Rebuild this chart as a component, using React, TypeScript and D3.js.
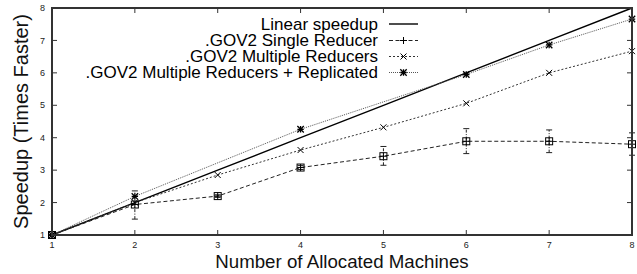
import React from "react";
import * as d3 from "d3";

// machines on the x axis
const machines = [1, 2, 3, 4, 5, 6, 7, 8];
const yTicks = [1, 2, 3, 4, 5, 6, 7, 8];

const linearSpeedup = [1, 2, 3, 4, 5, 6, 7, 8];
// single reducer, mean and error range
const singleReducer = [1, 1.94, 2.2, 3.08, 3.43, 3.89, 3.89, 3.8];
const singleLow = [1, 1.49, 2.16, 3.02, 3.15, 3.51, 3.54, 3.46];
const singleHigh = [1, 2.36, 2.24, 3.14, 3.73, 4.28, 4.24, 4.15];
const multipleReducers = [1, 2.0, 2.85, 3.62, 4.32, 5.06, 6.0, 6.67];
// replicated run has no points at 3 and 5 machines
const replicatedMachines = [1, 2, 4, 6, 7, 8];
const replicated = [1, 2.19, 4.26, 5.95, 6.86, 7.66];

const legendLabels = [
  "Linear speedup",
  ".GOV2 Single Reducer",
  ".GOV2 Multiple Reducers",
  ".GOV2 Multiple Reducers + Replicated",
];

const W = 637;
const H = 274;
const m = { left: 52, right: 5, top: 8, bottom: 39 };
const font = "'Liberation Sans', Arial, Helvetica, sans-serif";

const Plus = ({ x, y, s = 3.5 }) => (
  <path d={`M${x - s},${y}H${x + s}M${x},${y - s}V${y + s}`} stroke="#000" strokeWidth={1} />
);
const Cross = ({ x, y, s = 3 }) => (
  <path d={`M${x - s},${y - s}L${x + s},${y + s}M${x - s},${y + s}L${x + s},${y - s}`} stroke="#000" strokeWidth={1} />
);
const Star = ({ x, y, s = 3.2 }) => (
  <g stroke="#000" strokeWidth={1.3}>
    <path d={`M${x - s},${y}H${x + s}M${x},${y - s}V${y + s}`} />
    <path d={`M${x - s},${y - s}L${x + s},${y + s}M${x - s},${y + s}L${x + s},${y - s}`} />
  </g>
);
const BoxPlus = ({ x, y, s = 3.5 }) => (
  <g stroke="#000" strokeWidth={1} fill="none">
    <rect x={x - s} y={y - s} width={2 * s} height={2 * s} />
    <path d={`M${x - s},${y}H${x + s}M${x},${y - s}V${y + s}`} />
  </g>
);

export default function App() {
  const x = d3.scaleLinear().domain([1, 8]).range([m.left, W - m.right]);
  const y = d3.scaleLinear().domain([1, 8]).range([H - m.bottom, m.top]);
  const [x0, x1] = x.range();
  const [y0, y1] = y.range();

  const line = d3.line<[number, number]>().x((d) => x(d[0])).y((d) => y(d[1]));
  const zip = (xs: number[], ys: number[]) => xs.map((v, i) => [v, ys[i]] as [number, number]);

  const series = [
    { label: legendLabels[0], d: zip(machines, linearSpeedup), dash: "none", color: "#000", w: 1.4, mark: null },
    { label: legendLabels[1], d: zip(machines, singleReducer), dash: "4,2.5", color: "#222", w: 1, mark: Plus },
    { label: legendLabels[2], d: zip(machines, multipleReducers), dash: "2,2", color: "#333", w: 1, mark: Cross },
    { label: legendLabels[3], d: zip(replicatedMachines, replicated), dash: "1,1", color: "#555", w: 1, mark: Star },
  ];

  const tickLen = 5;
  const legendRight = 378;
  const legendY = [24, 40.5, 56.5, 72.5];

  return (
    <svg width={W} height={H} style={{ position: "absolute", left: 0, top: 0, background: "#fff" }}>
      {/* ticks, mirrored on all sides */}
      <g stroke="#333" strokeWidth={1}>
        {yTicks.map((t) => (
          <g key={"y" + t}>
            <line x1={x0} x2={x0 + tickLen} y1={y(t)} y2={y(t)} />
            <line x1={x1} x2={x1 - tickLen} y1={y(t)} y2={y(t)} />
          </g>
        ))}
        {machines.map((t) => (
          <g key={"x" + t}>
            <line x1={x(t)} x2={x(t)} y1={y0} y2={y0 - tickLen} />
            <line x1={x(t)} x2={x(t)} y1={y1} y2={y1 + tickLen} />
          </g>
        ))}
      </g>
      <g fontFamily={font} fontSize={9} fill="#222">
        {yTicks.map((t) => (
          <text key={t} x={x0 - 7} y={y(t) + 3.2} textAnchor="end">{t}</text>
        ))}
        {machines.map((t) => (
          <text key={t} x={x(t)} y={y0 + 13} textAnchor="middle">{t}</text>
        ))}
      </g>

      {/* series lines */}
      {series.map((s) => (
        <path key={s.label} d={line(s.d) || ""} fill="none" stroke={s.color} strokeWidth={s.w} strokeDasharray={s.dash} />
      ))}

      {/* error bars of the single reducer */}
      <g stroke="#222" strokeWidth={1}>
        {machines.map((mc, i) => (
          <g key={"e" + mc}>
            <line x1={x(mc)} x2={x(mc)} y1={y(singleLow[i])} y2={y(singleHigh[i])} strokeDasharray="3,1.5,1,1.5" />
            <line x1={x(mc) - 3} x2={x(mc) + 3} y1={y(singleLow[i])} y2={y(singleLow[i])} />
            <line x1={x(mc) - 3} x2={x(mc) + 3} y1={y(singleHigh[i])} y2={y(singleHigh[i])} />
          </g>
        ))}
      </g>

      {/* markers */}
      {machines.map((mc, i) => <BoxPlus key={"b" + mc} x={x(mc)} y={y(singleReducer[i])} />)}
      {machines.map((mc, i) => <Cross key={"c" + mc} x={x(mc)} y={y(multipleReducers[i])} />)}
      {replicatedMachines.map((mc, i) => <Star key={"s" + mc} x={x(mc)} y={y(replicated[i])} />)}

      {/* border */}
      <rect x={x0} y={y1} width={x1 - x0} height={y0 - y1} fill="none" stroke="#333" strokeWidth={2} />

      {/* legend */}
      <g fontFamily={font} fontSize={17} fill="#000">
        {series.map((s, i) => {
          const Mk = s.mark;
          return (
            <g key={s.label}>
              <text x={legendRight} y={legendY[i] + 5.5} textAnchor="end">{s.label}</text>
              <line x1={389} x2={418} y1={legendY[i]} y2={legendY[i]} stroke={s.color} strokeWidth={s.w} strokeDasharray={s.dash} />
              {Mk && <Mk x={403.5} y={legendY[i]} />}
            </g>
          );
        })}
      </g>

      {/* axis titles */}
      <text x={(x0 + x1) / 2} y={267.5} textAnchor="middle" fontFamily={font} fontSize={18.7} fill="#111">
        Number of Allocated Machines
      </text>
      <text transform={`translate(28,${(y0 + y1) / 2}) rotate(-90)`} textAnchor="middle" fontFamily={font} fontSize={20} fill="#111">
        Speedup (Times Faster)
      </text>
    </svg>
  );
}
